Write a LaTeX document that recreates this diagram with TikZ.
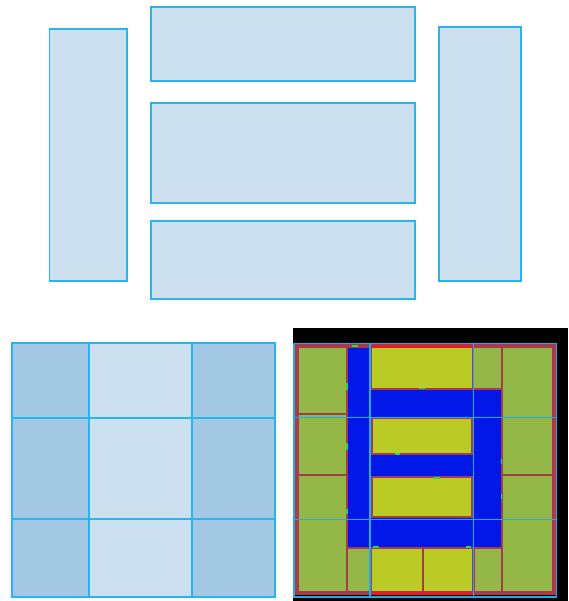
\documentclass[tikz,border=0pt]{standalone}
\definecolor{edgeblue}{RGB}{40,180,240}
\definecolor{paleblue}{RGB}{204,224,240}
\definecolor{midblue}{RGB}{163,200,228}
\definecolor{cellgreen}{RGB}{148,184,72}
\definecolor{cellyellow}{RGB}{185,203,36}
\definecolor{channel}{RGB}{2,24,232}
\definecolor{rim}{RGB}{168,58,78}
\definecolor{hotrim}{RGB}{232,24,36}
\definecolor{pin}{RGB}{40,220,70}
\definecolor{gridcyan}{RGB}{30,172,232}
\begin{document}
\begin{tikzpicture}[x=1pt, y=-1pt,
    block/.style={draw=edgeblue, fill=paleblue, line width=1.9pt},
    tileline/.style={draw=edgeblue, line width=1.9pt},
    cell/.style={draw=rim, line width=2.2pt},
    floorframe/.style={draw=rim, line width=4pt},
    hotedge/.style={draw=hotrim, line width=2.8pt},
    pinmark/.style={draw=pin, line width=1.8pt},
    gridline/.style={draw=gridcyan, line width=1.4pt}]
  \useasboundingbox (0,0) rectangle (568,601);

  % the five blocks, before placement
  \draw[block] (49.5,29)    rectangle (127,281);
  \draw[block] (151.3,7.3)  rectangle (414.7,81.3);
  \draw[block] (151.3,103.3) rectangle (414.7,203.3);
  \draw[block] (151.3,221.3) rectangle (414.7,299);
  \draw[block] (438.7,27.3) rectangle (521.3,281);

  % the 3x3 tiling, outer columns shaded darker
  \fill[midblue]  (11.7,343.3)  rectangle (88.7,597);
  \fill[paleblue] (88.7,343.3)  rectangle (192.3,597);
  \fill[midblue]  (192.3,343.3) rectangle (275.3,597);
  \draw[tileline] (11.7,343.3) rectangle (275.3,597);
  \foreach \x in {88.7, 192.3}
    \draw[tileline] (\x,343.3) -- (\x,597);
  \foreach \y in {417.7, 519.3}
    \draw[tileline] (11.7,\y) -- (275.3,\y);

  % placed floorplan: channels first, the cells on top of them
  \fill[black] (292.5,327.5) rectangle (568,601);
  \fill[channel] (347.2,346.5) rectangle (501.8,547.7);
  \foreach \xa/\ya/\xb/\yb in {297.2/346.5/347.2/414.2, 297.2/414.2/347.2/475.3, 297.2/475.3/347.2/592.7,
                              501.8/346.5/554.2/474.8, 501.8/474.8/554.2/592.7, 473.2/346.5/501.8/389.2,
                              347.2/547.7/370.7/592.7, 473.5/547.7/501.8/592.7}
    \filldraw[cell, fill=cellgreen] (\xa,\ya) rectangle (\xb,\yb);
  \foreach \xa/\ya/\xb/\yb in {371.3/346.5/473.2/389.2, 371.7/418.3/472.3/454.3, 371.7/477.3/472.3/517,
                              370.7/547.7/423.3/592.7, 423.3/547.7/473.5/592.7}
    \filldraw[cell, fill=cellyellow] (\xa,\ya) rectangle (\xb,\yb);
  \draw[floorframe] (297.2,346.4) rectangle (554.2,592.7);
  \draw[hotedge] (371.5,346.2) -- (472.5,346.2);
  \draw[hotedge] (371.5,593.2) -- (472.5,593.2);

  % pins on the cell borders
  \foreach \xa/\ya/\xb/\yb in {351.7/345.7/358.3/345.7, 419.3/388.4/425/388.4, 395/453.6/400.3/453.6,
                              433/477.8/439.7/477.8, 373.3/547.2/379.3/547.2, 466.3/547.2/471.3/547.2,
                              346.8/383/346.8/390, 346.8/443/346.8/450, 346.8/509.3/346.8/514.3,
                              501.4/458.5/501.4/464, 501.4/493.7/501.4/498.5}
    \draw[pinmark] (\xa,\ya) -- (\xb,\yb);

  % the same 3x3 tiling laid over the floorplan
  \draw[gridline] (294,343.3) rectangle (556.7,597);
  \foreach \x in {370, 473.3}
    \draw[gridline] (\x,343.3) -- (\x,597);
  \foreach \y in {417.3, 519.3}
    \draw[gridline] (294,\y) -- (556.7,\y);
\end{tikzpicture}
\end{document}
